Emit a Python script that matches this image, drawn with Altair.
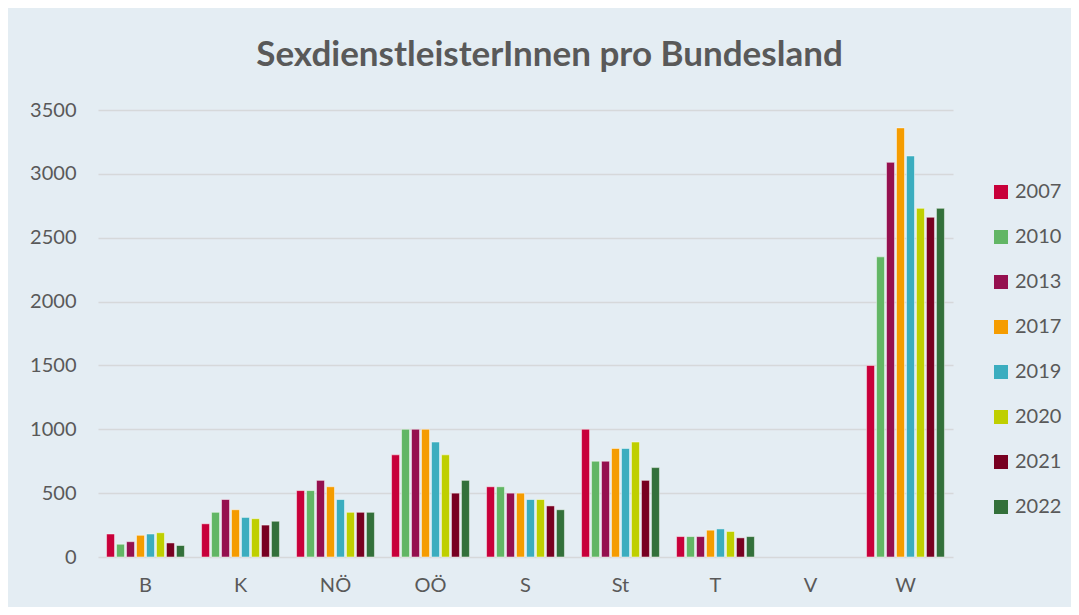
import altair as alt
import pandas as pd

states = ["B", "K", "NÖ", "OÖ", "S", "St", "T", "V", "W"]
years = ["2007", "2010", "2013", "2017", "2019", "2020", "2021", "2022"]
colors = ["#C8003A", "#62B665", "#95104F", "#F59C00", "#3BADBF", "#BFCF00", "#780021", "#33703A"]

# values per year, in order of states (V has no data)
v2007 = [180, 260, 520, 800, 550, 1000, 160, None, 1500]
v2010 = [100, 350, 520, 1000, 550, 750, 160, None, 2350]
v2013 = [120, 450, 600, 1000, 500, 750, 160, None, 3090]
v2017 = [170, 370, 550, 1000, 500, 850, 210, None, 3360]
v2019 = [180, 310, 450, 900, 450, 850, 220, None, 3140]
v2020 = [190, 300, 350, 800, 450, 900, 200, None, 2730]
v2021 = [110, 250, 350, 500, 400, 600, 150, None, 2660]
v2022 = [90, 280, 350, 600, 370, 700, 160, None, 2730]

series = [v2007, v2010, v2013, v2017, v2019, v2020, v2021, v2022]
rows = []
for y, vals in zip(years, series):
    for s, v in zip(states, vals):
        if v is not None:
            rows.append({"Bundesland": s, "Jahr": y, "Wert": v})
df = pd.DataFrame(rows)

FONT = "Lato"
TXT = "#595959"

chart = alt.Chart(df).mark_bar(
    stroke="white", strokeWidth=0.8, strokeOpacity=0.6
).encode(
    x=alt.X("Bundesland:N", sort=states,
            scale=alt.Scale(domain=states, paddingInner=0.18, paddingOuter=0.09),
            axis=alt.Axis(title=None, labelAngle=0, labelFontSize=20, labelColor=TXT,
                          labelFont=FONT, labelPadding=18, domain=False, ticks=False,
                          grid=False)),
    xOffset=alt.XOffset("Jahr:N", sort=years,
                        scale=alt.Scale(domain=years, paddingInner=0.2, paddingOuter=0)),
    y=alt.Y("Wert:Q",
            scale=alt.Scale(domain=[0, 3500], nice=False),
            axis=alt.Axis(title=None, values=[0, 500, 1000, 1500, 2000, 2500, 3000, 3500],
                          format="d",
                          labelFontSize=20, labelColor=TXT, labelFont=FONT, labelPadding=22,
                          domain=False, ticks=False, grid=True, gridColor="#D6D8DA",
                          gridWidth=1.6)),
    color=alt.Color("Jahr:N", sort=years,
                    scale=alt.Scale(domain=years, range=colors),
                    legend=alt.Legend(title=None, orient="none", legendX=893, legendY=72,
                                      symbolType="square", symbolSize=196,
                                      symbolStrokeWidth=0, labelFontSize=20,
                                      labelColor=TXT, labelFont=FONT, labelOffset=4,
                                      rowPadding=25)),
).properties(
    width=855,
    height=447,
    title=alt.TitleParams("SexdienstleisterInnen pro Bundesland", fontSize=35,
                          font=FONT, fontWeight="bold", color=TXT, anchor="middle",
                          offset=27, dx=24),
    autosize=alt.AutoSizeParams(type="none"),
    padding={"left": 90, "top": 102, "right": 118, "bottom": 50},
    background="#E4EDF3",
).configure_view(stroke=None)

chart.save("out.html", embed_options={"renderer": "svg", "actions": False})
